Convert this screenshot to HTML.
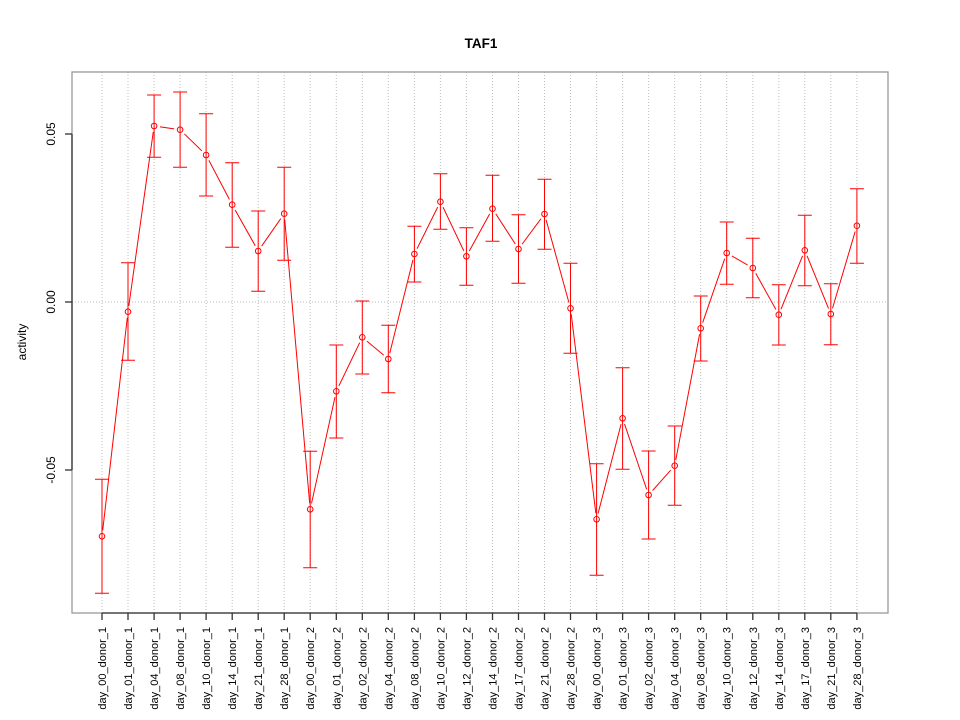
<!DOCTYPE html>
<html><head><meta charset="utf-8"><style>
html,body{margin:0;padding:0;background:#fff;}
svg{display:block;}
text{font-family:"Liberation Sans",Arial,sans-serif;fill:#000;}
</style></head><body>
<svg width="960" height="720" viewBox="0 0 960 720" xmlns="http://www.w3.org/2000/svg">
<defs>
<mask id="m">
<rect x="0" y="0" width="960" height="720" fill="#fff"/>
<g fill="#000">
<circle cx="102" cy="536.3" r="6"/><circle cx="128" cy="311.7" r="6"/><circle cx="154.1" cy="126" r="6"/><circle cx="180.1" cy="129.7" r="6"/><circle cx="206.1" cy="155" r="6"/><circle cx="232.2" cy="204.7" r="6"/><circle cx="258.2" cy="251" r="6"/><circle cx="284.2" cy="213.7" r="6"/><circle cx="310.2" cy="509.3" r="6"/><circle cx="336.3" cy="391.3" r="6"/><circle cx="362.3" cy="337.3" r="6"/><circle cx="388.3" cy="359" r="6"/><circle cx="414.4" cy="254" r="6"/><circle cx="440.4" cy="201.7" r="6"/><circle cx="466.4" cy="256.3" r="6"/><circle cx="492.5" cy="208.7" r="6"/><circle cx="518.5" cy="249" r="6"/><circle cx="544.5" cy="214" r="6"/><circle cx="570.5" cy="308.3" r="6"/><circle cx="596.6" cy="519.3" r="6"/><circle cx="622.6" cy="418.3" r="6"/><circle cx="648.6" cy="495" r="6"/><circle cx="674.7" cy="465.7" r="6"/><circle cx="700.7" cy="328.3" r="6"/><circle cx="726.7" cy="253" r="6"/><circle cx="752.8" cy="268" r="6"/><circle cx="778.8" cy="314.7" r="6"/><circle cx="804.8" cy="250.3" r="6"/><circle cx="830.8" cy="314" r="6"/><circle cx="856.9" cy="225.7" r="6"/>
</g>
</mask>
</defs>

<!-- grid -->
<g stroke="#bdbdbd" stroke-width="1" stroke-dasharray="1,2">
<line x1="102" y1="72" x2="102" y2="613"/><line x1="128" y1="72" x2="128" y2="613"/><line x1="154.1" y1="72" x2="154.1" y2="613"/><line x1="180.1" y1="72" x2="180.1" y2="613"/><line x1="206.1" y1="72" x2="206.1" y2="613"/><line x1="232.2" y1="72" x2="232.2" y2="613"/><line x1="258.2" y1="72" x2="258.2" y2="613"/><line x1="284.2" y1="72" x2="284.2" y2="613"/><line x1="310.2" y1="72" x2="310.2" y2="613"/><line x1="336.3" y1="72" x2="336.3" y2="613"/><line x1="362.3" y1="72" x2="362.3" y2="613"/><line x1="388.3" y1="72" x2="388.3" y2="613"/><line x1="414.4" y1="72" x2="414.4" y2="613"/><line x1="440.4" y1="72" x2="440.4" y2="613"/><line x1="466.4" y1="72" x2="466.4" y2="613"/><line x1="492.5" y1="72" x2="492.5" y2="613"/><line x1="518.5" y1="72" x2="518.5" y2="613"/><line x1="544.5" y1="72" x2="544.5" y2="613"/><line x1="570.5" y1="72" x2="570.5" y2="613"/><line x1="596.6" y1="72" x2="596.6" y2="613"/><line x1="622.6" y1="72" x2="622.6" y2="613"/><line x1="648.6" y1="72" x2="648.6" y2="613"/><line x1="674.7" y1="72" x2="674.7" y2="613"/><line x1="700.7" y1="72" x2="700.7" y2="613"/><line x1="726.7" y1="72" x2="726.7" y2="613"/><line x1="752.8" y1="72" x2="752.8" y2="613"/><line x1="778.8" y1="72" x2="778.8" y2="613"/><line x1="804.8" y1="72" x2="804.8" y2="613"/><line x1="830.8" y1="72" x2="830.8" y2="613"/><line x1="856.9" y1="72" x2="856.9" y2="613"/>
<line x1="72" y1="302" x2="888" y2="302"/>
</g>

<!-- box -->
<rect x="72" y="72" width="816" height="541" fill="none" stroke="#999" stroke-width="1.3"/>

<!-- axes -->
<g stroke="#333" stroke-width="1.3" fill="none">
<line x1="72" y1="134" x2="72" y2="470"/>
<line x1="65" y1="134" x2="72" y2="134"/>
<line x1="65" y1="302" x2="72" y2="302"/>
<line x1="65" y1="470" x2="72" y2="470"/>
<line x1="102" y1="613" x2="856.9" y2="613"/>
<path d="M102 613v7M128 613v7M154.1 613v7M180.1 613v7M206.1 613v7M232.2 613v7M258.2 613v7M284.2 613v7M310.2 613v7M336.3 613v7M362.3 613v7M388.3 613v7M414.4 613v7M440.4 613v7M466.4 613v7M492.5 613v7M518.5 613v7M544.5 613v7M570.5 613v7M596.6 613v7M622.6 613v7M648.6 613v7M674.7 613v7M700.7 613v7M726.7 613v7M752.8 613v7M778.8 613v7M804.8 613v7M830.8 613v7M856.9 613v7"/>
</g>

<!-- y tick labels -->
<g font-size="12" text-anchor="middle">
<text transform="translate(55,134) rotate(-90)">0.05</text>
<text transform="translate(55,302) rotate(-90)">0.00</text>
<text transform="translate(55,470) rotate(-90)">-0.05</text>
</g>
<text font-size="12" text-anchor="middle" transform="translate(26,342) rotate(-90)">activity</text>
<text x="481" y="48" font-size="13.5" font-weight="bold" text-anchor="middle">TAF1</text>

<!-- x labels -->
<g font-size="11" text-anchor="end">
<text transform="translate(106,627) rotate(-90)">day_00_donor_1</text>
<text transform="translate(132,627) rotate(-90)">day_01_donor_1</text>
<text transform="translate(158.1,627) rotate(-90)">day_04_donor_1</text>
<text transform="translate(184.1,627) rotate(-90)">day_08_donor_1</text>
<text transform="translate(210.1,627) rotate(-90)">day_10_donor_1</text>
<text transform="translate(236.2,627) rotate(-90)">day_14_donor_1</text>
<text transform="translate(262.2,627) rotate(-90)">day_21_donor_1</text>
<text transform="translate(288.2,627) rotate(-90)">day_28_donor_1</text>
<text transform="translate(314.2,627) rotate(-90)">day_00_donor_2</text>
<text transform="translate(340.3,627) rotate(-90)">day_01_donor_2</text>
<text transform="translate(366.3,627) rotate(-90)">day_02_donor_2</text>
<text transform="translate(392.3,627) rotate(-90)">day_04_donor_2</text>
<text transform="translate(418.4,627) rotate(-90)">day_08_donor_2</text>
<text transform="translate(444.4,627) rotate(-90)">day_10_donor_2</text>
<text transform="translate(470.4,627) rotate(-90)">day_12_donor_2</text>
<text transform="translate(496.5,627) rotate(-90)">day_14_donor_2</text>
<text transform="translate(522.5,627) rotate(-90)">day_17_donor_2</text>
<text transform="translate(548.5,627) rotate(-90)">day_21_donor_2</text>
<text transform="translate(574.5,627) rotate(-90)">day_28_donor_2</text>
<text transform="translate(600.6,627) rotate(-90)">day_00_donor_3</text>
<text transform="translate(626.6,627) rotate(-90)">day_01_donor_3</text>
<text transform="translate(652.6,627) rotate(-90)">day_02_donor_3</text>
<text transform="translate(678.7,627) rotate(-90)">day_04_donor_3</text>
<text transform="translate(704.7,627) rotate(-90)">day_08_donor_3</text>
<text transform="translate(730.7,627) rotate(-90)">day_10_donor_3</text>
<text transform="translate(756.8,627) rotate(-90)">day_12_donor_3</text>
<text transform="translate(782.8,627) rotate(-90)">day_14_donor_3</text>
<text transform="translate(808.8,627) rotate(-90)">day_17_donor_3</text>
<text transform="translate(834.8,627) rotate(-90)">day_21_donor_3</text>
<text transform="translate(860.9,627) rotate(-90)">day_28_donor_3</text>
</g>

<!-- series line -->
<polyline mask="url(#m)" fill="none" stroke="#ff0000" stroke-width="1" points="102,536.3 128,311.7 154.1,126 180.1,129.7 206.1,155 232.2,204.7 258.2,251 284.2,213.7 310.2,509.3 336.3,391.3 362.3,337.3 388.3,359 414.4,254 440.4,201.7 466.4,256.3 492.5,208.7 518.5,249 544.5,214 570.5,308.3 596.6,519.3 622.6,418.3 648.6,495 674.7,465.7 700.7,328.3 726.7,253 752.8,268 778.8,314.7 804.8,250.3 830.8,314 856.9,225.7"/>

<!-- points -->
<g fill="none" stroke="#ff0000" stroke-width="1">
<circle cx="102" cy="536.3" r="2.8"/><circle cx="128" cy="311.7" r="2.8"/><circle cx="154.1" cy="126" r="2.8"/><circle cx="180.1" cy="129.7" r="2.8"/><circle cx="206.1" cy="155" r="2.8"/><circle cx="232.2" cy="204.7" r="2.8"/><circle cx="258.2" cy="251" r="2.8"/><circle cx="284.2" cy="213.7" r="2.8"/><circle cx="310.2" cy="509.3" r="2.8"/><circle cx="336.3" cy="391.3" r="2.8"/><circle cx="362.3" cy="337.3" r="2.8"/><circle cx="388.3" cy="359" r="2.8"/><circle cx="414.4" cy="254" r="2.8"/><circle cx="440.4" cy="201.7" r="2.8"/><circle cx="466.4" cy="256.3" r="2.8"/><circle cx="492.5" cy="208.7" r="2.8"/><circle cx="518.5" cy="249" r="2.8"/><circle cx="544.5" cy="214" r="2.8"/><circle cx="570.5" cy="308.3" r="2.8"/><circle cx="596.6" cy="519.3" r="2.8"/><circle cx="622.6" cy="418.3" r="2.8"/><circle cx="648.6" cy="495" r="2.8"/><circle cx="674.7" cy="465.7" r="2.8"/><circle cx="700.7" cy="328.3" r="2.8"/><circle cx="726.7" cy="253" r="2.8"/><circle cx="752.8" cy="268" r="2.8"/><circle cx="778.8" cy="314.7" r="2.8"/><circle cx="804.8" cy="250.3" r="2.8"/><circle cx="830.8" cy="314" r="2.8"/><circle cx="856.9" cy="225.7" r="2.8"/>
</g>

<!-- error bars -->
<g fill="none" stroke="#ff0000" stroke-width="1">
<path d="M102 479.3V593.3M95 479.3h14M95 593.3h14"/>
<path d="M128 262.7V360.3M121 262.7h14M121 360.3h14"/>
<path d="M154.1 95V157.3M147.1 95h14M147.1 157.3h14"/>
<path d="M180.1 92V167.3M173.1 92h14M173.1 167.3h14"/>
<path d="M206.1 113.7V196M199.1 113.7h14M199.1 196h14"/>
<path d="M232.2 162.7V247.3M225.2 162.7h14M225.2 247.3h14"/>
<path d="M258.2 211V291.3M251.2 211h14M251.2 291.3h14"/>
<path d="M284.2 167.3V260.3M277.2 167.3h14M277.2 260.3h14"/>
<path d="M310.2 451.3V567.7M303.2 451.3h14M303.2 567.7h14"/>
<path d="M336.3 345V438M329.3 345h14M329.3 438h14"/>
<path d="M362.3 301V374M355.3 301h14M355.3 374h14"/>
<path d="M388.3 325.3V392.7M381.3 325.3h14M381.3 392.7h14"/>
<path d="M414.4 226.3V282M407.4 226.3h14M407.4 282h14"/>
<path d="M440.4 173.7V229.3M433.4 173.7h14M433.4 229.3h14"/>
<path d="M466.4 227.7V285.3M459.4 227.7h14M459.4 285.3h14"/>
<path d="M492.5 175.3V241.3M485.5 175.3h14M485.5 241.3h14"/>
<path d="M518.5 214.7V283.3M511.5 214.7h14M511.5 283.3h14"/>
<path d="M544.5 179.3V249.3M537.5 179.3h14M537.5 249.3h14"/>
<path d="M570.5 263.3V353.3M563.5 263.3h14M563.5 353.3h14"/>
<path d="M596.6 463.7V575.3M589.6 463.7h14M589.6 575.3h14"/>
<path d="M622.6 367.7V469.3M615.6 367.7h14M615.6 469.3h14"/>
<path d="M648.6 451V539M641.6 451h14M641.6 539h14"/>
<path d="M674.7 426V505.3M667.7 426h14M667.7 505.3h14"/>
<path d="M700.7 296V361M693.7 296h14M693.7 361h14"/>
<path d="M726.7 222V284.3M719.7 222h14M719.7 284.3h14"/>
<path d="M752.8 238.3V297.7M745.8 238.3h14M745.8 297.7h14"/>
<path d="M778.8 284.7V345M771.8 284.7h14M771.8 345h14"/>
<path d="M804.8 215.3V285.7M797.8 215.3h14M797.8 285.7h14"/>
<path d="M830.8 283.7V344.7M823.8 283.7h14M823.8 344.7h14"/>
<path d="M856.9 188.7V263.3M849.9 188.7h14M849.9 263.3h14"/>
</g>
</svg>
</body></html>
